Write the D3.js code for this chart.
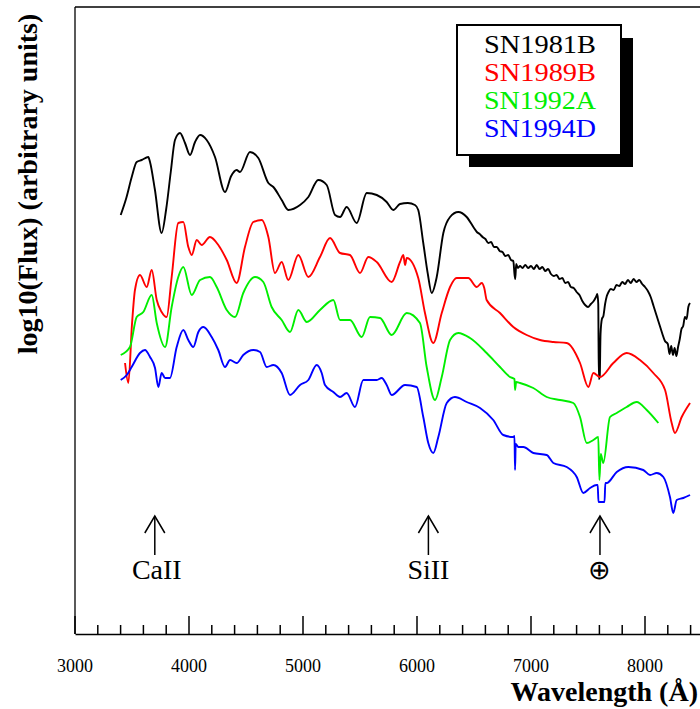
<!DOCTYPE html>
<html>
<head>
<meta charset="utf-8">
<script src="https://cdn.jsdelivr.net/npm/d3@7/dist/d3.min.js"></script>
<style>
  html, body { margin: 0; padding: 0; background: #fff; }
  svg { display: block; }
</style>
</head>
<body>
<svg id="chart" width="700" height="709"></svg>
<script>
// Wavelength (Angstrom) and offset log10 flux for each supernova spectrum
const sn1981bWave = [3401,3450,3500,3541,3585,3643,3658,3700,3760,3800,3840,3877,3921,3965,4009,4053,4097,4155,4228,4316,4370,4418,4447,4535,4608,4696,4740,4813,4871,4974,5047,5134,5208,5281,5325,5383,5471,5559,5647,5734,5792,5851,5920,5982,6011,6055,6095,6129,6173,6231,6290,6362,6436,6500,6525,6550,6575,6600,6625,6650,6675,6700,6725,6750,6775,6800,6825,6845,6855,6862,6870,6885,6904,6925,6950,6975,7000,7025,7050,7075,7100,7125,7150,7175,7200,7225,7250,7275,7300,7325,7350,7375,7400,7425,7450,7475,7500,7525,7550,7570,7582,7590,7595,7603,7610,7622,7635,7650,7665,7680,7700,7725,7750,7775,7800,7825,7850,7875,7900,7925,7950,7975,8000,8025,8050,8075,8100,8125,8150,8175,8200,8215,8230,8245,8260,8275,8290,8305,8320,8335,8350,8365,8380,8395];
const sn1981bFlux = [4.19,4.36,4.58,4.72,4.74,4.77,4.72,4.45,4.01,4.25,4.62,4.94,5.01,4.91,4.79,4.92,4.99,4.94,4.77,4.42,4.58,4.64,4.62,4.82,4.76,4.51,4.47,4.34,4.24,4.29,4.37,4.54,4.49,4.19,4.17,4.27,4.11,4.41,4.39,4.32,4.24,4.30,4.31,4.29,4.24,3.91,3.60,3.41,3.57,4.01,4.17,4.22,4.17,4.06,4.02,4.00,3.97,3.95,3.91,3.92,3.87,3.87,3.83,3.82,3.78,3.79,3.74,3.73,3.60,3.55,3.70,3.66,3.68,3.66,3.69,3.66,3.68,3.65,3.69,3.65,3.67,3.63,3.65,3.60,3.58,3.59,3.55,3.56,3.51,3.52,3.47,3.46,3.42,3.39,3.33,3.29,3.27,3.30,3.33,3.37,3.40,3.30,2.55,2.58,3.00,3.15,3.18,3.30,3.38,3.42,3.45,3.44,3.49,3.48,3.52,3.50,3.54,3.51,3.55,3.52,3.54,3.50,3.47,3.43,3.37,3.28,3.19,3.10,3.01,2.93,2.90,2.80,2.88,2.79,2.86,2.78,2.87,2.95,3.05,3.08,3.17,3.15,3.27,3.31];

const sn1989bWave = [3439,3468,3500,3526,3570,3629,3673,3717,3760,3804,3848,3906,3950,3994,4024,4068,4111,4184,4257,4331,4418,4491,4564,4638,4696,4754,4813,4871,4959,5047,5149,5237,5325,5412,5500,5573,5647,5778,5851,5880,5895,5910,6011,6070,6143,6217,6290,6348,6450,6524,6568,6590,6611,6728,6845,6962,7079,7196,7313,7430,7503,7547,7605,7722,7839,7956,8073,8176,8234,8263,8322,8395];
const sn1989bFlux = [2.71,2.51,3.10,3.44,3.59,3.47,3.64,3.34,3.22,3.17,3.57,4.11,4.12,3.87,3.79,3.94,3.89,3.97,3.89,3.74,3.51,3.87,4.12,4.14,3.97,3.61,3.72,3.54,3.79,3.57,3.77,3.96,3.81,3.79,3.61,3.77,3.72,3.52,3.72,3.79,3.69,3.76,3.56,3.21,2.91,3.21,3.47,3.56,3.56,3.47,3.51,3.46,3.34,3.21,3.07,2.99,2.94,2.92,2.91,2.71,2.47,2.61,2.57,2.71,2.81,2.74,2.61,2.44,2.11,2.01,2.17,2.31];

const sn1992aWave = [3401,3482,3541,3599,3673,3717,3790,3848,3906,3950,4024,4097,4184,4243,4331,4404,4476,4579,4652,4725,4813,4886,4959,5033,5149,5266,5325,5412,5515,5588,5676,5778,5910,6026,6085,6158,6217,6290,6362,6465,6611,6728,6816,6855,6860,6870,6904,7020,7138,7254,7371,7430,7489,7547,7590,7600,7612,7634,7693,7752,7839,7927,8015,8117];
const sn1992aFlux = [2.79,2.87,3.17,3.22,3.39,3.11,2.87,3.27,3.57,3.67,3.39,3.54,3.57,3.47,3.24,3.17,3.41,3.57,3.52,3.27,3.14,3.02,3.24,3.12,3.24,3.34,3.14,3.14,2.97,3.17,3.16,2.99,3.21,3.11,2.67,2.34,2.57,2.94,3.01,2.96,2.81,2.67,2.57,2.55,2.44,2.52,2.51,2.46,2.37,2.34,2.31,2.17,1.91,1.94,1.97,1.54,1.80,1.71,2.17,2.21,2.27,2.32,2.24,2.11];

const sn1994dWave = [3401,3454,3497,3570,3614,3658,3702,3731,3760,3790,3833,3892,3950,3994,4038,4082,4126,4199,4257,4316,4360,4418,4476,4564,4623,4682,4740,4813,4886,4974,5047,5120,5164,5193,5266,5325,5383,5456,5529,5647,5690,5734,5778,5895,5997,6055,6099,6143,6187,6261,6333,6436,6553,6669,6757,6845,6855,6860,6866,6889,6933,7020,7138,7196,7313,7401,7459,7518,7576,7585,7592,7645,7652,7664,7752,7854,7985,8044,8103,8161,8219,8248,8278,8336,8395];
const sn1994dFlux = [2.54,2.59,2.67,2.81,2.84,2.77,2.66,2.47,2.61,2.56,2.56,2.87,3.04,2.94,2.87,3.02,3.07,2.97,2.84,2.67,2.74,2.71,2.79,2.84,2.82,2.67,2.69,2.61,2.39,2.49,2.54,2.69,2.61,2.49,2.42,2.37,2.41,2.27,2.54,2.54,2.56,2.49,2.39,2.49,2.47,2.17,1.91,1.81,1.97,2.31,2.37,2.32,2.26,2.14,1.99,1.97,1.98,1.64,1.90,1.87,1.87,1.81,1.79,1.71,1.67,1.57,1.41,1.46,1.49,1.49,1.32,1.32,1.51,1.51,1.62,1.67,1.64,1.59,1.61,1.57,1.37,1.21,1.34,1.36,1.39];

const seriesNames = ["SN1981B", "SN1989B", "SN1992A", "SN1994D"];
const seriesColors = ["#000000", "#ff0000", "#00ee00", "#0000ff"];

// Line identifications marked below the spectra
const lineLabels = ["CaII", "SiII", "\u2295"];
const lineWaves = [3700, 6100, 7605];

// Wavelength axis
const majorTicks = [3000, 4000, 5000, 6000, 7000, 8000];
const minorTicks = d3.range(3000, 8500, 200);

const serif = "'Liberation Serif', 'Times New Roman', Times, serif";
const svg = d3.select("#chart");
const plotLeft = 75, plotRight = 702, plotTop = 7, plotBottom = 634;

const x = d3.scaleLinear().domain([3000, 8500]).range([plotLeft, plotRight]);
const y = d3.scaleLinear().domain([0, 6.27]).range([plotBottom, plotTop]);

const spectra = [
  [sn1981bWave, sn1981bFlux],
  [sn1989bWave, sn1989bFlux],
  [sn1992aWave, sn1992aFlux],
  [sn1994dWave, sn1994dFlux]
];

const line = d3.line().curve(d3.curveMonotoneX).x(d => x(d[0])).y(d => y(d[1]));

spectra.forEach((s, i) => {
  const pts = s[0].map((w, k) => [w, s[1][k]]);
  svg.append("path")
    .datum(pts)
    .attr("d", line)
    .attr("fill", "none")
    .attr("stroke", seriesColors[i])
    .attr("stroke-width", 1.9)
    .attr("stroke-linejoin", "round");
});

// Frame: left and top lines, bottom axis
svg.append("line").attr("x1", plotLeft).attr("x2", plotLeft).attr("y1", plotTop).attr("y2", plotBottom)
  .attr("stroke", "#000").attr("stroke-width", 1.3);
svg.append("line").attr("x1", plotLeft).attr("x2", 700).attr("y1", plotTop).attr("y2", plotTop)
  .attr("stroke", "#000").attr("stroke-width", 1.3);

const axis = d3.axisBottom(x).tickValues(minorTicks).tickSize(0).tickFormat("");
const gAxis = svg.append("g").attr("transform", `translate(0,${plotBottom})`).call(axis);
gAxis.select(".domain").attr("stroke", "#000").attr("stroke-width", 1.5);

svg.append("g").selectAll("line").data(minorTicks).join("line")
  .attr("x1", d => x(d)).attr("x2", d => x(d))
  .attr("y1", plotBottom).attr("y2", d => majorTicks.includes(d) ? plotBottom - 18 : plotBottom - 9)
  .attr("stroke", "#000").attr("stroke-width", 1.5);

svg.append("g").selectAll("text").data(majorTicks).join("text")
  .attr("x", d => x(d)).attr("y", 672)
  .attr("text-anchor", "middle").attr("font-size", 18).attr("font-family", serif)
  .text(d => d);

svg.append("text")
  .attr("x", 698).attr("y", 701)
  .attr("text-anchor", "end").attr("font-size", 28).attr("font-weight", "bold")
  .attr("font-family", serif)
  .text("Wavelength (\u00c5)");

svg.append("text")
  .attr("transform", "translate(37,184) rotate(-90)")
  .attr("text-anchor", "middle").attr("font-size", 28).attr("font-weight", "bold")
  .attr("font-family", serif)
  .text("log10(Flux) (arbitrary units)");

// Arrows with line identifications
const gMarks = svg.append("g");
lineWaves.forEach((w, i) => {
  const cx = x(w);
  gMarks.append("line").attr("x1", cx).attr("x2", cx).attr("y1", 516).attr("y2", 555)
    .attr("stroke", "#000").attr("stroke-width", 1.5);
  gMarks.append("path")
    .attr("d", `M${cx - 10},${533} L${cx},${516} L${cx + 10},${533}`)
    .attr("fill", "none").attr("stroke", "#000").attr("stroke-width", 1.5);
  gMarks.append("text")
    .attr("x", cx + (i === 0 ? 2 : 0)).attr("y", 579)
    .attr("text-anchor", "middle")
    .attr("font-size", i === 2 ? 27 : 28)
    .attr("font-weight", i === 2 ? 200 : 400)
    .attr("font-family", i === 2 ? "'DejaVu Sans', sans-serif" : serif)
    .text(lineLabels[i]);
});

// Legend with drop shadow
const lg = svg.append("g");
lg.append("rect").attr("x", 469).attr("y", 38).attr("width", 164).attr("height", 129).attr("fill", "#000");
lg.append("rect").attr("x", 457).attr("y", 25).attr("width", 164).attr("height", 130)
  .attr("fill", "#fff").attr("stroke", "#000").attr("stroke-width", 2);
seriesNames.forEach((n, i) => {
  lg.append("text")
    .attr("x", 540).attr("y", 53 + i * 28)
    .attr("text-anchor", "middle").attr("font-size", 26)
    .attr("font-family", serif)
    .attr("textLength", 112).attr("lengthAdjust", "spacingAndGlyphs")
    .attr("fill", seriesColors[i])
    .text(n);
});
</script>
</body>
</html>
